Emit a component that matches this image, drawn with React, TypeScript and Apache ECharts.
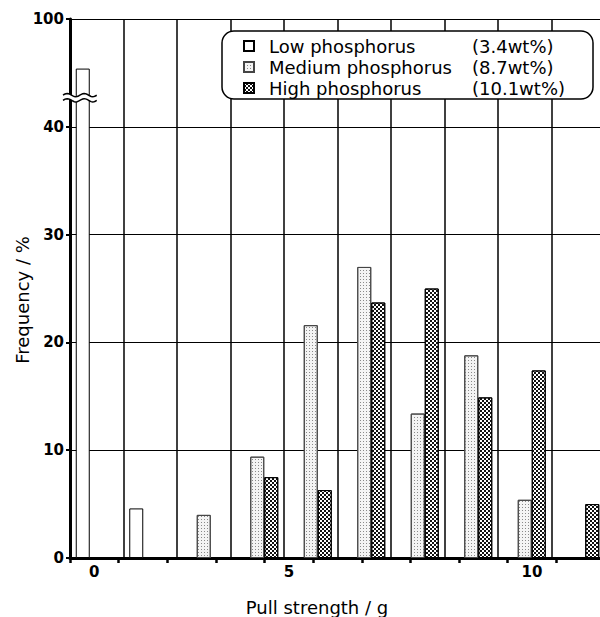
import React, { useEffect, useRef } from 'react';
import * as echarts from 'echarts';

// ---- data ----
const categories = ['0', '1', '2', '3', '4', '5', '6', '7', '8', '9'];
const xTickLabels = ['0', '', '', '', '5', '', '', '', '', '10', ''];
const seriesNames = ['Low phosphorus', 'Medium phosphorus', 'High phosphorus'];
const contents = ['(3.4wt%)', '(8.7wt%)', '(10.1wt%)'];
const lowValues = [95.4, 4.6, 0, 0, 0, 0, 0, 0, 0, 0];
const mediumValues = [0, 0, 4.0, 9.4, 21.6, 27.0, 13.4, 18.8, 5.4, 0];
const highValues = [0, 0, 0, 7.5, 6.3, 23.7, 25.0, 14.9, 17.4, 5.0];
const yTickValues = [0, 10, 20, 30, 40, 50];
// broken y axis: values between breakFrom and breakTo are cut out
const breakFrom = 42.7;
const breakTo = 92.7;

const FONT = '"DejaVu Sans", "Noto Sans", sans-serif';
const span = breakTo - breakFrom;
const toDisplay = (v: number) => (v >= breakTo ? v - span : v);
const fromDisplay = (v: number) => (v > breakFrom ? v + span : v);

export default function App() {
  const ref = useRef<HTMLDivElement>(null);
  useEffect(() => {
    if (!ref.current) return;
    const chart = echarts.init(ref.current, null, { renderer: 'svg' });
    const mk = (arr: number[]) => arr.map((v) => (v === 0 ? '-' : toDisplay(v)));
    const option: any = {
      animation: false,
      backgroundColor: '#fff',
      textStyle: { fontFamily: FONT, color: '#000' },
      grid: { left: 70, top: 19, bottom: 59, right: -5, outerBoundsMode: 'none', containLabel: false },
      legend: {
        orient: 'vertical',
        left: 222,
        top: 31,
        padding: [5, 28, 1, 21],
        itemGap: 1,
        itemWidth: 10,
        itemHeight: 10,
        borderColor: '#000',
        borderWidth: 1.5,
        borderRadius: 12,
        backgroundColor: '#fff',
        icon: 'rect',
        data: seriesNames,
        formatter: (name: string) => `{n|${name}}{w|${contents[seriesNames.indexOf(name)]}}`,
        textStyle: {
          fontFamily: FONT,
          fontSize: 18,
          color: '#000',
          lineHeight: 20,
          rich: {
            n: { width: 203, padding: [0, 0, 0, 10], fontSize: 18, fontFamily: FONT, color: '#000' },
            w: { fontSize: 18, fontFamily: FONT, color: '#000' },
          },
        },
      },
      xAxis: [
        {
          type: 'category',
          data: categories,
          boundaryGap: true,
          axisLine: { show: false },
          axisTick: { show: false },
          axisLabel: { show: false },
          splitLine: { show: true, lineStyle: { color: '#000', width: 1.5 } },
        },
        {
          type: 'category',
          data: xTickLabels,
          position: 'bottom',
          boundaryGap: true,
          axisLine: { show: true, lineStyle: { color: '#000', width: 3 } },
          axisTick: { show: true, length: 5, lineStyle: { color: '#000', width: 2.5 } },
          axisLabel: { show: true, interval: 0, margin: 6, fontSize: 15, fontWeight: 'bold', fontFamily: FONT, color: '#000' },
          splitLine: { show: false },
        },
      ],
      yAxis: {
        type: 'value',
        min: yTickValues[0],
        max: yTickValues[yTickValues.length - 1],
        interval: 10,
        axisLine: { show: true, lineStyle: { color: '#000', width: 3 } },
        axisTick: { show: true, length: 4, lineStyle: { color: '#000', width: 2 } },
        axisLabel: {
          margin: 6,
          fontSize: 15,
          fontWeight: 'bold',
          fontFamily: FONT,
          color: '#000',
          formatter: (v: number) => String(Math.round(fromDisplay(v))),
        },
        splitLine: { show: true, lineStyle: { color: '#000', width: 1.2 } },
      },
      series: [
        {
          name: seriesNames[0],
          type: 'bar',
          xAxisIndex: 0,
          barWidth: 14,
          barGap: '0%',
          data: mk(lowValues),
          itemStyle: { color: '#fff', borderColor: '#000', borderWidth: 1 },
        },
        {
          name: seriesNames[1],
          type: 'bar',
          xAxisIndex: 0,
          barWidth: 14,
          barGap: '0%',
          data: mk(mediumValues),
          itemStyle: {
            color: '#f4f4f4',
            borderColor: '#444',
            borderWidth: 1,
            decal: {
              symbol: 'rect',
              symbolSize: 1,
              color: '#8a8a8a',
              dashArrayX: [1, 1.6],
              dashArrayY: [1, 1.6],
              rotation: 0,
            },
          },
        },
        {
          name: seriesNames[2],
          type: 'bar',
          xAxisIndex: 0,
          barWidth: 14,
          barGap: '0%',
          data: mk(highValues),
          itemStyle: {
            color: '#fff',
            borderColor: '#000',
            borderWidth: 1,
            decal: {
              symbol: 'rect',
              symbolSize: 1,
              color: '#111',
              dashArrayX: [[2, 2], [0, 2, 2, 0]],
              dashArrayY: [2, 0],
              rotation: 0,
            },
          },
        },
      ],
    };
    chart.setOption(option);

    // break mark on the y axis, positioned through the axis scale
    const yb = chart.convertToPixel({ yAxisIndex: 0 }, breakFrom) as number;
    const c0 = chart.convertToPixel({ xAxisIndex: 0 }, 0) as number;
    const x0 = 63;
    const x1 = c0 + 0;
    const wave = (dy: number) => {
      const pts: number[][] = [];
      const n = 24;
      for (let i = 0; i <= n; i++) {
        const x = x0 + ((x1 - x0) * i) / n;
        pts.push([x, yb + dy - 1.6 * Math.sin((2 * Math.PI * (x - x0)) / 17)]);
      }
      return pts;
    };
    const top = wave(-2.6);
    const bot = wave(2.6);
    chart.setOption({
      graphic: [
        {
          type: 'polygon',
          z: 100,
          shape: { points: [...top, ...bot.slice().reverse()] },
          style: { fill: '#fff', stroke: null },
        },
        { type: 'polyline', z: 101, shape: { points: top }, style: { stroke: '#000', lineWidth: 1.5, fill: null } },
        { type: 'polyline', z: 101, shape: { points: bot }, style: { stroke: '#000', lineWidth: 1.5, fill: null } },
        {
          type: 'text',
          z: 101,
          x: 317,
          y: 607,
          style: { text: 'Pull strength / g', fontSize: 18, fontFamily: FONT, fill: '#000', align: 'center', verticalAlign: 'middle' },
        },
        {
          type: 'text',
          z: 101,
          x: 22,
          y: 300,
          rotation: Math.PI / 2,
          style: { text: 'Frequency / %', fontSize: 18, fontFamily: FONT, fill: '#000', align: 'center', verticalAlign: 'middle' },
        },
      ],
    });
    return () => chart.dispose();
  }, []);
  return <div ref={ref} style={{ position: 'absolute', left: 0, top: 0, width: 600, height: 617 }} />;
}
